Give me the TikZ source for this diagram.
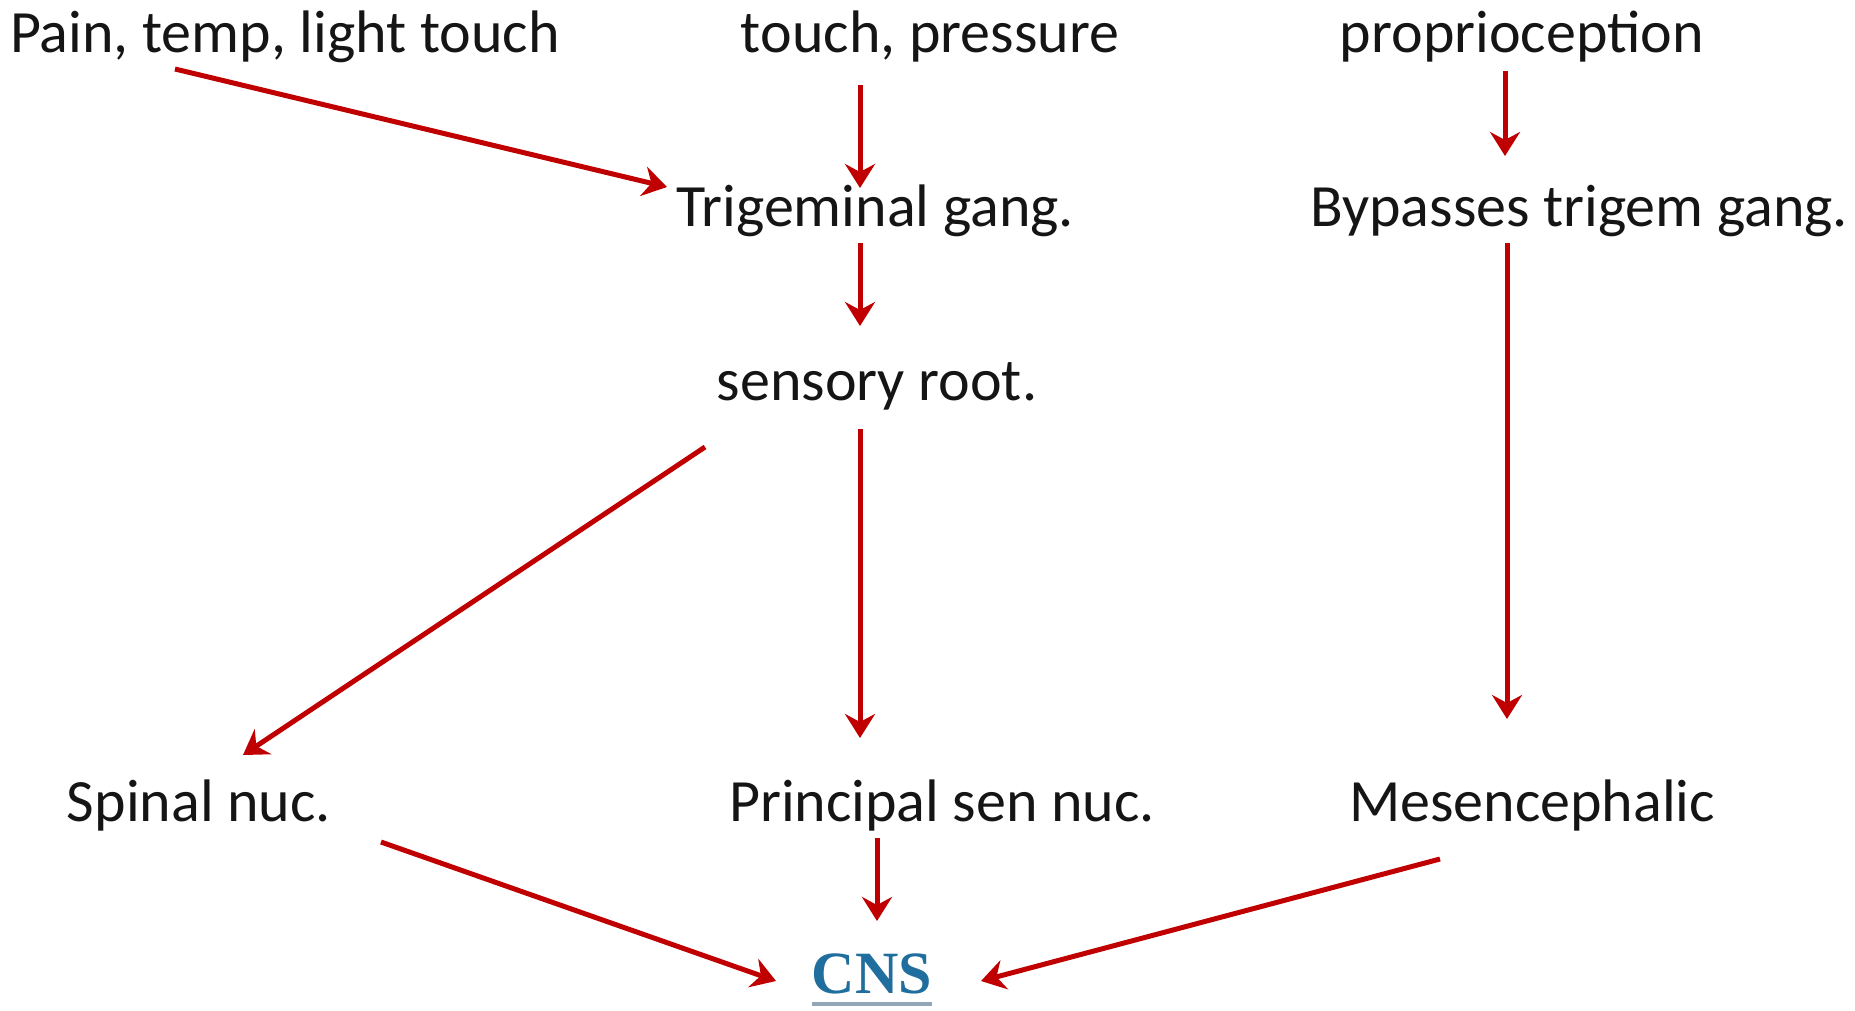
\documentclass[tikz,border=0pt]{standalone}
\usepackage{fontspec}
\setmainfont{Carlito}
\newfontfamily\cnsfont{Liberation Serif}
\usetikzlibrary{arrows.meta}
\definecolor{arrred}{HTML}{C00000}
\definecolor{txt}{HTML}{151515}
\definecolor{cnsblue}{HTML}{1F6E9E}
\definecolor{cnsline}{HTML}{8FA7B8}
\begin{document}
\begin{tikzpicture}[x=1pt,y=-1pt,
  lbl/.style={anchor=base,inner sep=0pt,text=txt,font=\fontsize{60}{60}\selectfont},
  arr/.style={draw=arrred,line width=5pt,-{Stealth[length=24pt,width=30pt,inset=8pt]}}]
\useasboundingbox[fill=white] (0,0) rectangle (1855,1010);
% labels
\node[lbl] (pain) at (285,52) {Pain, temp, light touch};
\node[lbl] (touch) at (930,52) {touch, pressure};
\node[lbl] (prop) at (1522,52) {proprioception};
\node[lbl] (trig) at (875,226) {Trigeminal gang.};
\node[lbl] (bypass) at (1579,226) {Bypasses trigem gang.};
\node[lbl] (root) at (877,400) {sensory root.};
\node[lbl] (spinal) at (199,821) {Spinal nuc.};
\node[lbl] (princ) at (942,821) {Principal sen nuc.};
\node[lbl] (mes) at (1532,821) {Mesencephalic};
\node[anchor=base,inner sep=0pt,text=cnsblue,font=\cnsfont\bfseries\fontsize{60}{60}\selectfont] (cns) at (872,993) {CNS};
\draw[cnsline,line width=4pt] ([yshift=-11pt]cns.base west) -- ([yshift=-11pt]cns.base east);
% arrow end points
\coordinate (a1s) at (175,69);  \coordinate (a1e) at (667,187);
\coordinate (a2s) at (860,85);  \coordinate (a2e) at (860,188);
\coordinate (a3s) at (1505,71); \coordinate (a3e) at (1505,156);
\coordinate (a4s) at (860,243); \coordinate (a4e) at (860,326);
\coordinate (a5s) at (1507,243);\coordinate (a5e) at (1507,719);
\coordinate (a6s) at (705,447); \coordinate (a6e) at (243,755);
\coordinate (a7s) at (860,429); \coordinate (a7e) at (860,738);
\coordinate (a8s) at (381,842); \coordinate (a8e) at (776,981);
\coordinate (a9s) at (877,838); \coordinate (a9e) at (877,921);
\coordinate (a10s) at (1440,859);\coordinate (a10e) at (981,981);
\foreach \i in {1,...,10} \draw[arr] (a\i s) -- (a\i e);
\end{tikzpicture}
\end{document}
